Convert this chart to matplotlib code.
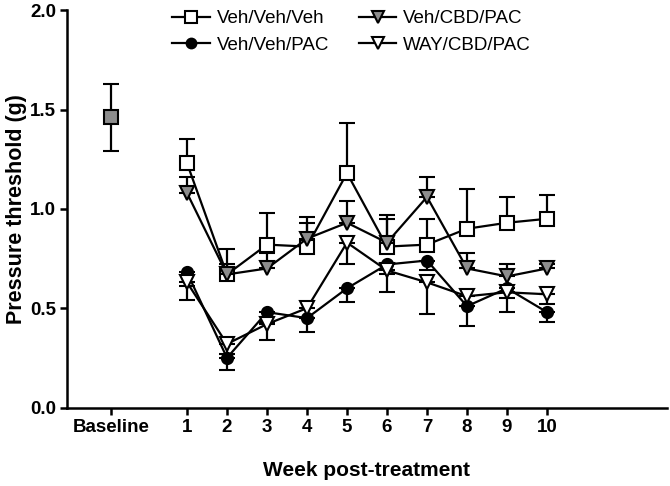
import matplotlib
matplotlib.use("Agg")
import matplotlib.pyplot as plt
from matplotlib.lines import Line2D
import numpy as np

plt.rcParams['font.family'] = ['Liberation Sans', 'DejaVu Sans']

weeks = [1, 2, 3, 4, 5, 6, 7, 8, 9, 10]
tick_labels = ["Baseline", "1", "2", "3", "4", "5", "6", "7", "8", "9", "10"]

baseline_mean = 1.46
baseline_err = 0.17

veh_veh_veh = [1.23, 0.67, 0.82, 0.81, 1.18, 0.81, 0.82, 0.90, 0.93, 0.95]
veh_veh_veh_err = [0.12, 0.13, 0.16, 0.15, 0.25, 0.16, 0.13, 0.20, 0.13, 0.12]

veh_cbd_pac = [1.08, 0.67, 0.70, 0.85, 0.93, 0.83, 1.06, 0.70, 0.66, 0.70]
veh_cbd_pac_err = [0.08, 0.05, 0.08, 0.08, 0.11, 0.12, 0.10, 0.08, 0.06, 0.02]

veh_veh_pac = [0.68, 0.25, 0.48, 0.45, 0.60, 0.72, 0.74, 0.51, 0.60, 0.48]
veh_veh_pac_err = [0.07, 0.06, 0.05, 0.07, 0.07, 0.05, 0.05, 0.10, 0.05, 0.05]

way_cbd_pac = [0.63, 0.32, 0.42, 0.50, 0.83, 0.69, 0.63, 0.56, 0.58, 0.57]
way_cbd_pac_err = [0.09, 0.05, 0.08, 0.05, 0.11, 0.11, 0.16, 0.05, 0.10, 0.05]

baseline_x = -0.9

fig = plt.figure(figsize=(6.7, 4.86), dpi=100)
ax = fig.add_axes([0.1, 0.1615, 0.8955, 0.8175])

lw = 1.6
grey = '#8c8c8c'
common = dict(color='black', linewidth=lw, elinewidth=lw, capsize=5.5, capthick=lw,
              markeredgecolor='black', markeredgewidth=1.5)

z0 = np.zeros(len(weeks))
ax.errorbar(weeks, veh_veh_veh, yerr=[z0, veh_veh_veh_err], marker='s', markersize=10,
            markerfacecolor='white', zorder=4, **common)
ax.errorbar(weeks, veh_veh_pac, yerr=[veh_veh_pac_err, z0], marker='o', markersize=8,
            markerfacecolor='black', zorder=3, **common)
ax.errorbar(weeks, veh_cbd_pac, yerr=[z0, veh_cbd_pac_err], marker='v', markersize=10,
            markerfacecolor=grey, zorder=5, **common)
ax.errorbar(weeks, way_cbd_pac, yerr=[way_cbd_pac_err, z0], marker='v', markersize=10,
            markerfacecolor='white', zorder=4, **common)
ax.errorbar([baseline_x], [baseline_mean], yerr=[baseline_err], marker='s', markersize=10,
            markerfacecolor=grey, zorder=5, **common)

ax.set_xlim(-2, 13)
ax.set_ylim(0, 2.0)
ax.set_yticks([0.0, 0.5, 1.0, 1.5, 2.0])
ax.set_yticklabels(['0.0', '0.5', '1.0', '1.5', '2.0'])
ax.set_xticks([baseline_x] + weeks)
ax.set_xticklabels(tick_labels)

for s in ['top', 'right']:
    ax.spines[s].set_visible(False)
for s in ['left', 'bottom']:
    ax.spines[s].set_linewidth(1.8)
ax.tick_params(axis='both', direction='out', length=5, width=1.8, labelsize=13.5, pad=3)
for lab in ax.get_xticklabels() + ax.get_yticklabels():
    lab.set_fontweight('bold')

ax.set_ylabel('Pressure threshold (g)', fontsize=15.5, fontweight='bold', labelpad=2)
ax.set_xlabel('Week post-treatment', fontsize=15, fontweight='bold', labelpad=18)

leg_labels = ['Veh/Veh/Veh', 'Veh/Veh/PAC', 'Veh/CBD/PAC', 'WAY/CBD/PAC']
styles = {
    'Veh/Veh/Veh': dict(marker='s', markersize=9, markerfacecolor='white'),
    'Veh/Veh/PAC': dict(marker='o', markersize=7, markerfacecolor='black'),
    'Veh/CBD/PAC': dict(marker='v', markersize=9, markerfacecolor=grey),
    'WAY/CBD/PAC': dict(marker='v', markersize=9, markerfacecolor='white'),
}
leg_handles = [Line2D([], [], color='black', linewidth=lw, markeredgecolor='black',
                      markeredgewidth=1.5, **styles[l]) for l in leg_labels]
ax.legend(leg_handles, leg_labels, ncol=2, frameon=False, fontsize=13.5,
          loc='upper left', bbox_to_anchor=(172 / 670, 1 - 10 / 486),
          bbox_transform=fig.transFigure, borderaxespad=0, borderpad=0,
          handlelength=2.0, handletextpad=0.37, columnspacing=1.6, labelspacing=0.5)

fig.savefig('out.png', dpi=100)
